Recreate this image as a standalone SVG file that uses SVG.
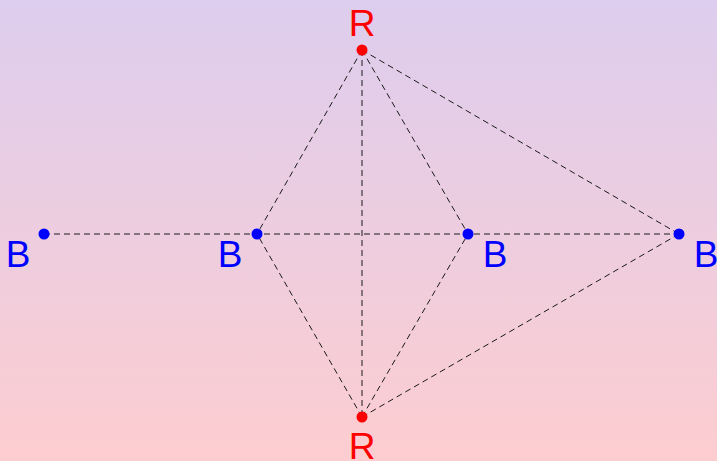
<svg xmlns="http://www.w3.org/2000/svg" width="717" height="461" viewBox="0 0 717 461">
<defs>
<linearGradient id="bg" x1="0" y1="0" x2="0" y2="1">
<stop offset="0" stop-color="#ddcdee"/>
<stop offset="1" stop-color="#fdcdd0"/>
</linearGradient>
<style>
.e{stroke:#1a1a1a;stroke-width:1;stroke-dasharray:6 4;fill:none}
.r{fill:#ff0000}
.b{fill:#0000ff}
text{font-family:"Liberation Sans",Arial,sans-serif;font-size:37px;text-anchor:middle}
</style>
</defs>
<rect width="717" height="461" fill="url(#bg)"/>
<g id="connectors">
<line class="e" x1="44" y1="234" x2="679" y2="234"/>
<line class="e" x1="362" y1="50" x2="257" y2="234"/>
<line class="e" x1="362" y1="50" x2="362" y2="417"/>
<line class="e" x1="362" y1="50" x2="468" y2="234"/>
<line class="e" x1="362" y1="50" x2="679" y2="234"/>
<line class="e" x1="362" y1="417" x2="257" y2="234"/>
<line class="e" x1="362" y1="417" x2="468" y2="234"/>
<line class="e" x1="362" y1="417" x2="679" y2="234"/>
</g>
<g id="R1"><circle class="r" cx="362" cy="50" r="5.5"/><text class="r" x="362" y="36">R</text></g>
<g id="R2"><circle class="r" cx="362" cy="417" r="5.5"/><text class="r" x="362" y="459">R</text></g>
<g id="B1"><circle class="b" cx="44" cy="234" r="5.5"/><text class="b" x="18" y="267">B</text></g>
<g id="B2"><circle class="b" cx="257" cy="234" r="5.5"/><text class="b" x="230" y="267">B</text></g>
<g id="B3"><circle class="b" cx="468" cy="234" r="5.5"/><text class="b" x="495" y="267">B</text></g>
<g id="B4"><circle class="b" cx="679" cy="234" r="5.5"/><text class="b" x="706" y="267">B</text></g>
</svg>
